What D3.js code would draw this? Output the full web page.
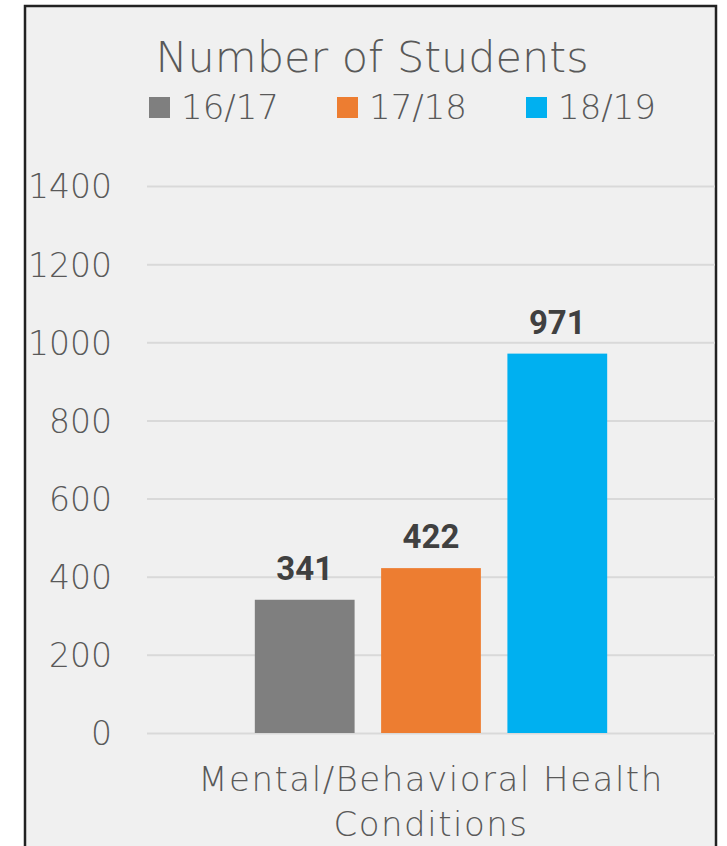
<!DOCTYPE html>
<html>
<head>
<meta charset="utf-8">
<script src="https://cdn.jsdelivr.net/npm/d3@7"></script>
<style>
  body { margin: 0; background: #fff; }
  svg { display: block; }
  .thin { font-family: "DejaVu Sans", sans-serif; font-weight: 200; fill: #595959; }
  .tick line { stroke: #d9d9d9; stroke-width: 2; }
</style>
</head>
<body>
<script>
var svgWidth = 727;
var svgHeight = 846;

// data
var categories = ["Mental/Behavioral Health Conditions"];
var series = ["16/17", "17/18", "18/19"];
var values = [341, 422, 971];
var colors = ["#7f7f7f", "#ed7d31", "#00b0f0"];
var yTicks = [0, 200, 400, 600, 800, 1000, 1200, 1400];

var plot = { left: 147, right: 715, top: 186, bottom: 733 };

var svg = d3.select("body").append("svg")
  .attr("width", svgWidth)
  .attr("height", svgHeight);

// frame
svg.append("rect")
  .attr("x", 25).attr("y", 6)
  .attr("width", 691).attr("height", 860)
  .attr("fill", "#f0f0f0")
  .attr("stroke", "#222")
  .attr("stroke-width", 2.5);

var y = d3.scaleLinear().domain([0, 1400]).range([plot.bottom, plot.top]);

var x0 = d3.scaleBand().domain(categories)
  .range([plot.left, plot.right])
  .paddingInner(0).paddingOuter(0.306);

var x1 = d3.scaleBand().domain(series)
  .range([0, x0.bandwidth()])
  .paddingInner(0.21).paddingOuter(0);

// gridlines + y labels
var yAxis = svg.append("g")
  .attr("transform", `translate(${plot.left},0)`)
  .call(d3.axisLeft(y).tickValues(yTicks).tickFormat(d3.format("d"))
    .tickSize(-(plot.right - plot.left)).tickPadding(35));
yAxis.select(".domain").remove();
yAxis.selectAll("text")
  .attr("class", "thin")
  .style("font-size", "33px")
  .attr("dy", "0.36em");

// bars
var group = svg.append("g")
  .attr("transform", `translate(${x0(categories[0])},0)`);

group.selectAll("rect")
  .data(values)
  .enter()
  .append("rect")
  .attr("x", (d, i) => x1(series[i]))
  .attr("y", d => y(d))
  .attr("width", x1.bandwidth())
  .attr("height", d => y(0) - y(d))
  .attr("fill", (d, i) => colors[i]);

group.selectAll(".val")
  .data(values)
  .enter()
  .append("text")
  .attr("class", "val")
  .attr("x", (d, i) => x1(series[i]) + x1.bandwidth() / 2)
  .attr("y", d => y(d) - 20)
  .attr("text-anchor", "middle")
  .style("font-family", "Roboto, sans-serif")
  .style("font-weight", "bold")
  .style("font-size", "33px")
  .style("fill", "#404040")
  .text(d => d);

// category label
var cx = x0(categories[0]) + x0.bandwidth() / 2;
svg.append("text")
  .attr("class", "thin")
  .attr("x", cx).attr("y", 791)
  .attr("text-anchor", "middle")
  .style("font-size", "34px")
  .style("letter-spacing", "1.5px")
  .text("Mental/Behavioral Health");
svg.append("text")
  .attr("class", "thin")
  .attr("x", cx).attr("y", 836)
  .attr("text-anchor", "middle")
  .style("font-size", "34px")
  .style("letter-spacing", "1.5px")
  .text("Conditions");

// title
svg.append("text")
  .attr("class", "thin")
  .attr("x", 372).attr("y", 72)
  .attr("text-anchor", "middle")
  .style("font-size", "43px")
  .text("Number of Students");

// legend
var legendX = [149, 337, 526];
var legend = svg.selectAll(".legend")
  .data(series)
  .enter()
  .append("g")
  .attr("transform", (d, i) => `translate(${legendX[i]},97)`);

legend.append("rect")
  .attr("width", 21).attr("height", 21)
  .attr("fill", (d, i) => colors[i]);

legend.append("text")
  .attr("class", "thin")
  .attr("x", 32).attr("y", 22)
  .style("font-size", "34px")
  .text(d => d);
</script>
</body>
</html>
